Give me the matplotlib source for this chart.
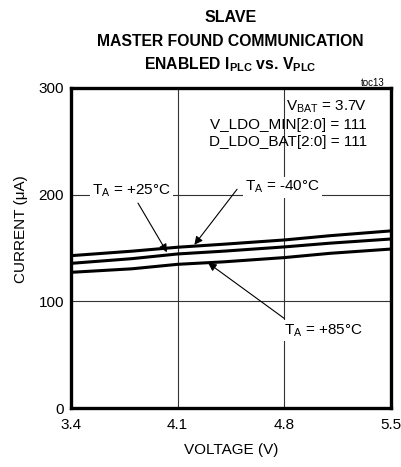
import numpy as np
import matplotlib
matplotlib.use("Agg")
import matplotlib.pyplot as plt

plt.rcParams['font.family'] = ['Liberation Sans Narrow', 'Liberation Sans', 'DejaVu Sans']
plt.rcParams['mathtext.fontset'] = 'custom'
plt.rcParams['mathtext.rm'] = 'Liberation Sans'
plt.rcParams['mathtext.bf'] = 'Liberation Sans:bold'

### data ###

voltage = [3.4, 3.8, 4.1, 4.4, 4.8, 5.1, 5.5]
current_m40 = [142.8, 147.0, 150.7, 153.5, 157.5, 161.5, 166.0]
current_p25 = [135.6, 140.0, 144.4, 147.0, 151.0, 154.5, 158.4]
current_p85 = [127.2, 130.5, 134.7, 137.0, 141.0, 145.0, 149.0]

xticks = [3.4, 4.1, 4.8, 5.5]
yticks = [0, 100, 200, 300]

### plot ###

fig = plt.figure(figsize=(4.01, 4.67), dpi=100)
ax = fig.add_axes([0.177, 0.126, 0.798, 0.686])

for cur in [current_m40, current_p25, current_p85]:
    ax.plot(voltage, cur, color='black', lw=2.2, solid_capstyle='butt')

ax.set_xlim(3.4, 5.5)
ax.set_ylim(0, 300)
ax.set_xticks(xticks)
ax.set_yticks(yticks)
ax.set_xticklabels([f"{v:.1f}" for v in xticks])
ax.tick_params(length=0, labelsize=11, pad=5)
ax.tick_params(axis='x', pad=7)
ax.grid(True, color='#333333', lw=0.8)
ax.set_axisbelow(True)
for s in ax.spines.values():
    s.set_linewidth(2.4)

ax.set_xlabel('VOLTAGE (V)', fontsize=11, labelpad=8)
ax.set_ylabel('CURRENT (μA)', fontsize=11)
ax.yaxis.set_label_coords(-0.135, 0.56)

fig.text(0.575, 0.962, 'SLAVE', ha='center', va='center', fontsize=11.5, fontweight='bold')
fig.text(0.575, 0.912, 'MASTER FOUND COMMUNICATION', ha='center', va='center', fontsize=11.3, fontweight='bold')
fig.text(0.575, 0.862, r'ENABLED I$_\mathbf{PLC}$ vs. V$_\mathbf{PLC}$', ha='center', va='center',
         fontsize=11.3, fontweight='bold')
fig.text(0.96, 0.822, 'toc13', ha='right', va='center', fontsize=7)

box = dict(facecolor='white', edgecolor='none', pad=1.5)
ax.text(0.925, 0.94, r'V$_\mathregular{BAT}$ = 3.7V', transform=ax.transAxes, ha='right', va='center', fontsize=11)
ax.text(0.925, 0.885, 'V_LDO_MIN[2:0] = 111', transform=ax.transAxes, ha='right', va='center', fontsize=11)
ax.text(0.925, 0.83, 'D_LDO_BAT[2:0] = 111', transform=ax.transAxes, ha='right', va='center', fontsize=11)

arrow = dict(arrowstyle='-|>', color='black', lw=0.8, mutation_scale=12, shrinkA=0, shrinkB=0)
ax.text(3.54, 204, r'T$_\mathregular{A}$ = +25°C', ha='left', va='center', fontsize=11, bbox=box)
ax.annotate('', xy=(4.03, 146), xytext=(3.84, 192), arrowprops=arrow)
ax.text(4.54, 207, r'T$_\mathregular{A}$ = -40°C', ha='left', va='center', fontsize=11, bbox=box)
ax.annotate('', xy=(4.21, 153), xytext=(4.49, 205), arrowprops=arrow)
ax.text(4.8, 73, r'T$_\mathregular{A}$ = +85°C', ha='left', va='center', fontsize=11, bbox=box)
ax.annotate('', xy=(4.30, 136), xytext=(4.80, 84), arrowprops=arrow)

fig.savefig('out.png', dpi=100)
